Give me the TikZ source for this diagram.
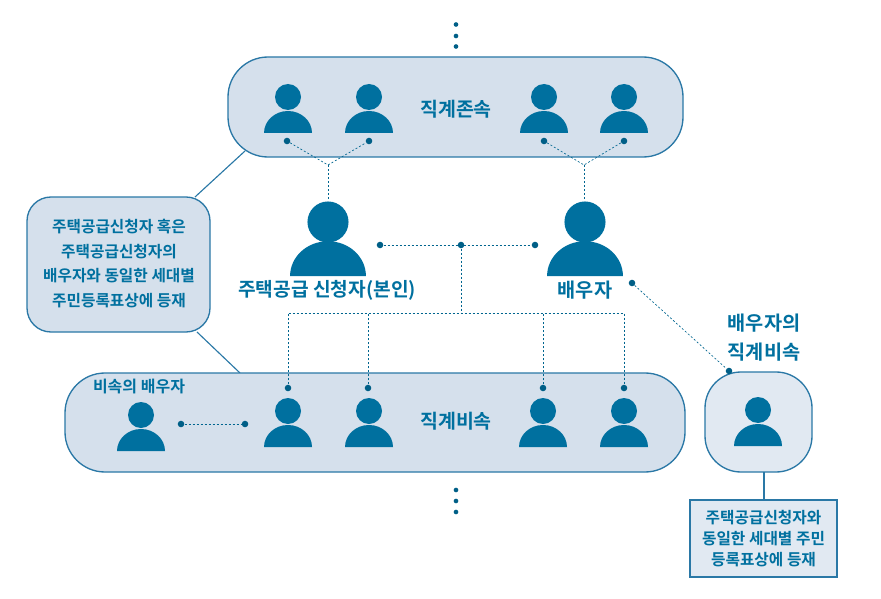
\documentclass[tikz,border=0pt]{standalone}
\usepackage{fontspec}
\setmainfont{Noto Sans CJK KR Bold}
\definecolor{ink}{HTML}{00709F}
\definecolor{edge}{HTML}{2A78A6}
\definecolor{fillA}{HTML}{D5E0EC}
\definecolor{fillB}{HTML}{E1E9F2}
\tikzset{
  x=0.75pt,y=-0.75pt,
  panel/.style={draw=edge,line width=1pt,fill=fillA,inner sep=0pt},
  lead/.style={draw=edge,line width=0.85pt},
  dots/.style={draw=ink!90!black,line width=0.5pt,dash pattern=on 1.5pt off 1.5pt},
  pin/.style={circle,fill=ink!85!black,draw=none,minimum size=4.9pt,inner sep=0pt},
  tick/.style={circle,fill=ink!85!black,draw=none,minimum size=3.5pt,inner sep=0pt},
  lab/.style={text=ink,align=center,inner sep=0pt},
}
% person: x, y of head centre, y of base, scale
\newcommand{\person}[4]{%
  \fill[ink] (#1,#2) circle[radius=#4*13*0.75pt];
  \fill[ink] ({#1-#4*24},#3) arc[start angle=180,end angle=0,x radius=#4*24*0.75pt,y radius=#4*22*0.75pt] -- cycle;
}
\newcommand{\rbox}[7]{% name,x0,y0,x1,y1,radius,fill
  \draw[panel,fill=#7,rounded corners=#6*0.75pt] (#2,#3) rectangle (#4,#5);
  \coordinate (#1) at ({(#2+#4)/2},{(#3+#5)/2});
}
\begin{document}
\begin{tikzpicture}
\useasboundingbox (0,0) rectangle (881,599);
% leads behind panels
\coordinate (lt) at (245,151); \coordinate (lb) at (240,373);
\coordinate (la) at (195,197); \coordinate (lc) at (197,332);
\draw[lead] (lt) -- (la);
\draw[lead] (lc) -- (lb);
% panels
\rbox{up}{228}{57}{683}{157}{40}{fillA}
\rbox{down}{65}{373}{685}{472}{40}{fillA}
\rbox{note}{27}{197}{210}{332}{24}{fillA}
\rbox{spb}{705}{372}{812}{472}{36}{fillB}
\node[draw=edge,line width=1pt,fill=fillB,minimum width=110.25pt,minimum height=57.75pt,inner sep=0pt] (tb) at (763.5,538.5) {};
\draw[lead] (764,472) -- (tb.north -| 764,0);
% people
\person{288}{97}{133}{1}
\person{369}{97}{133}{1}
\person{544}{97}{133}{1}
\person{624}{97}{133}{1}
\person{288}{411}{447}{1}
\person{369}{411}{447}{1}
\person{543}{411}{447}{1}
\person{624}{411}{447}{1}
\person{141}{415}{451}{1}
\person{758}{410}{446}{1}
\person{328}{222}{276}{1.58}
\person{585}{222}{276}{1.58}
% pins
\foreach \n/\a/\b in {a/287/141,b/369/141,c/544/141,d/624/141,
  e/380/245,f/461/245,g/535/245,
  h/288/388,i/368/388,j/543/388,k/624/388,
  l/181/424,m/245/424,n/632/283,o/729/371}
  {\node[pin] (\n) at (\a,\b) {};}
\foreach \n/\a/\b in {p/456/24.5,q/456/36,r/456/46.5,s/456/490,t/456/501,u/456/512}
  {\node[tick] (\n) at (\a,\b) {};}
\coordinate (j1) at (328,165); \coordinate (j2) at (584,165);
\coordinate (t1) at (328,200); \coordinate (t2) at (584,200);
\coordinate (v1) at (461,313);
\draw[dots] (a) -- (j1) -- (b);
\draw[dots] (j1) -- (t1);
\draw[dots] (c) -- (j2) -- (d);
\draw[dots] (j2) -- (t2);
\draw[dots] (e) -- (g);
\draw[dots] (f) -- (v1);
\draw[dots] (h) |- (v1) -| (k);
\draw[dots] (i) -- (i |- v1);
\draw[dots] (j) -- (j |- v1);
\draw[dots] (l) -- (m);
\draw[dots] (n) -- (o);
% labels
\node[lab,font=\fontsize{14.6}{16}\selectfont] (t-up) at (456,109) {직계존속};
\node[lab,font=\fontsize{14.6}{16}\selectfont] (t-down) at (456,421) {직계비속};
\node[lab,font=\fontsize{14.4}{16}\selectfont] (t-me) at (327,290) {주택공급 신청자(본인)};
\node[lab,font=\fontsize{14.8}{16}\selectfont] (t-sp) at (585,290) {배우자};
\node[lab,font=\fontsize{14.8}{21.6}\selectfont] (t-spd) at (764,337.5) {배우자의\\직계비속};
\node[lab,font=\fontsize{11.8}{18.3}\selectfont] (t-note) at (119,263.5) {주택공급신청자 혹은\\주택공급신청자의\\배우자와 동일한 세대별\\주민등록표상에 등재};
\node[lab,font=\fontsize{12}{15}\selectfont] (t-sub) at (139,387) {비속의 배우자};
\node[lab,font=\fontsize{11.8}{15.6}\selectfont] at (tb) {주택공급신청자와\\동일한 세대별 주민\\등록표상에 등재};
\end{tikzpicture}
\end{document}
